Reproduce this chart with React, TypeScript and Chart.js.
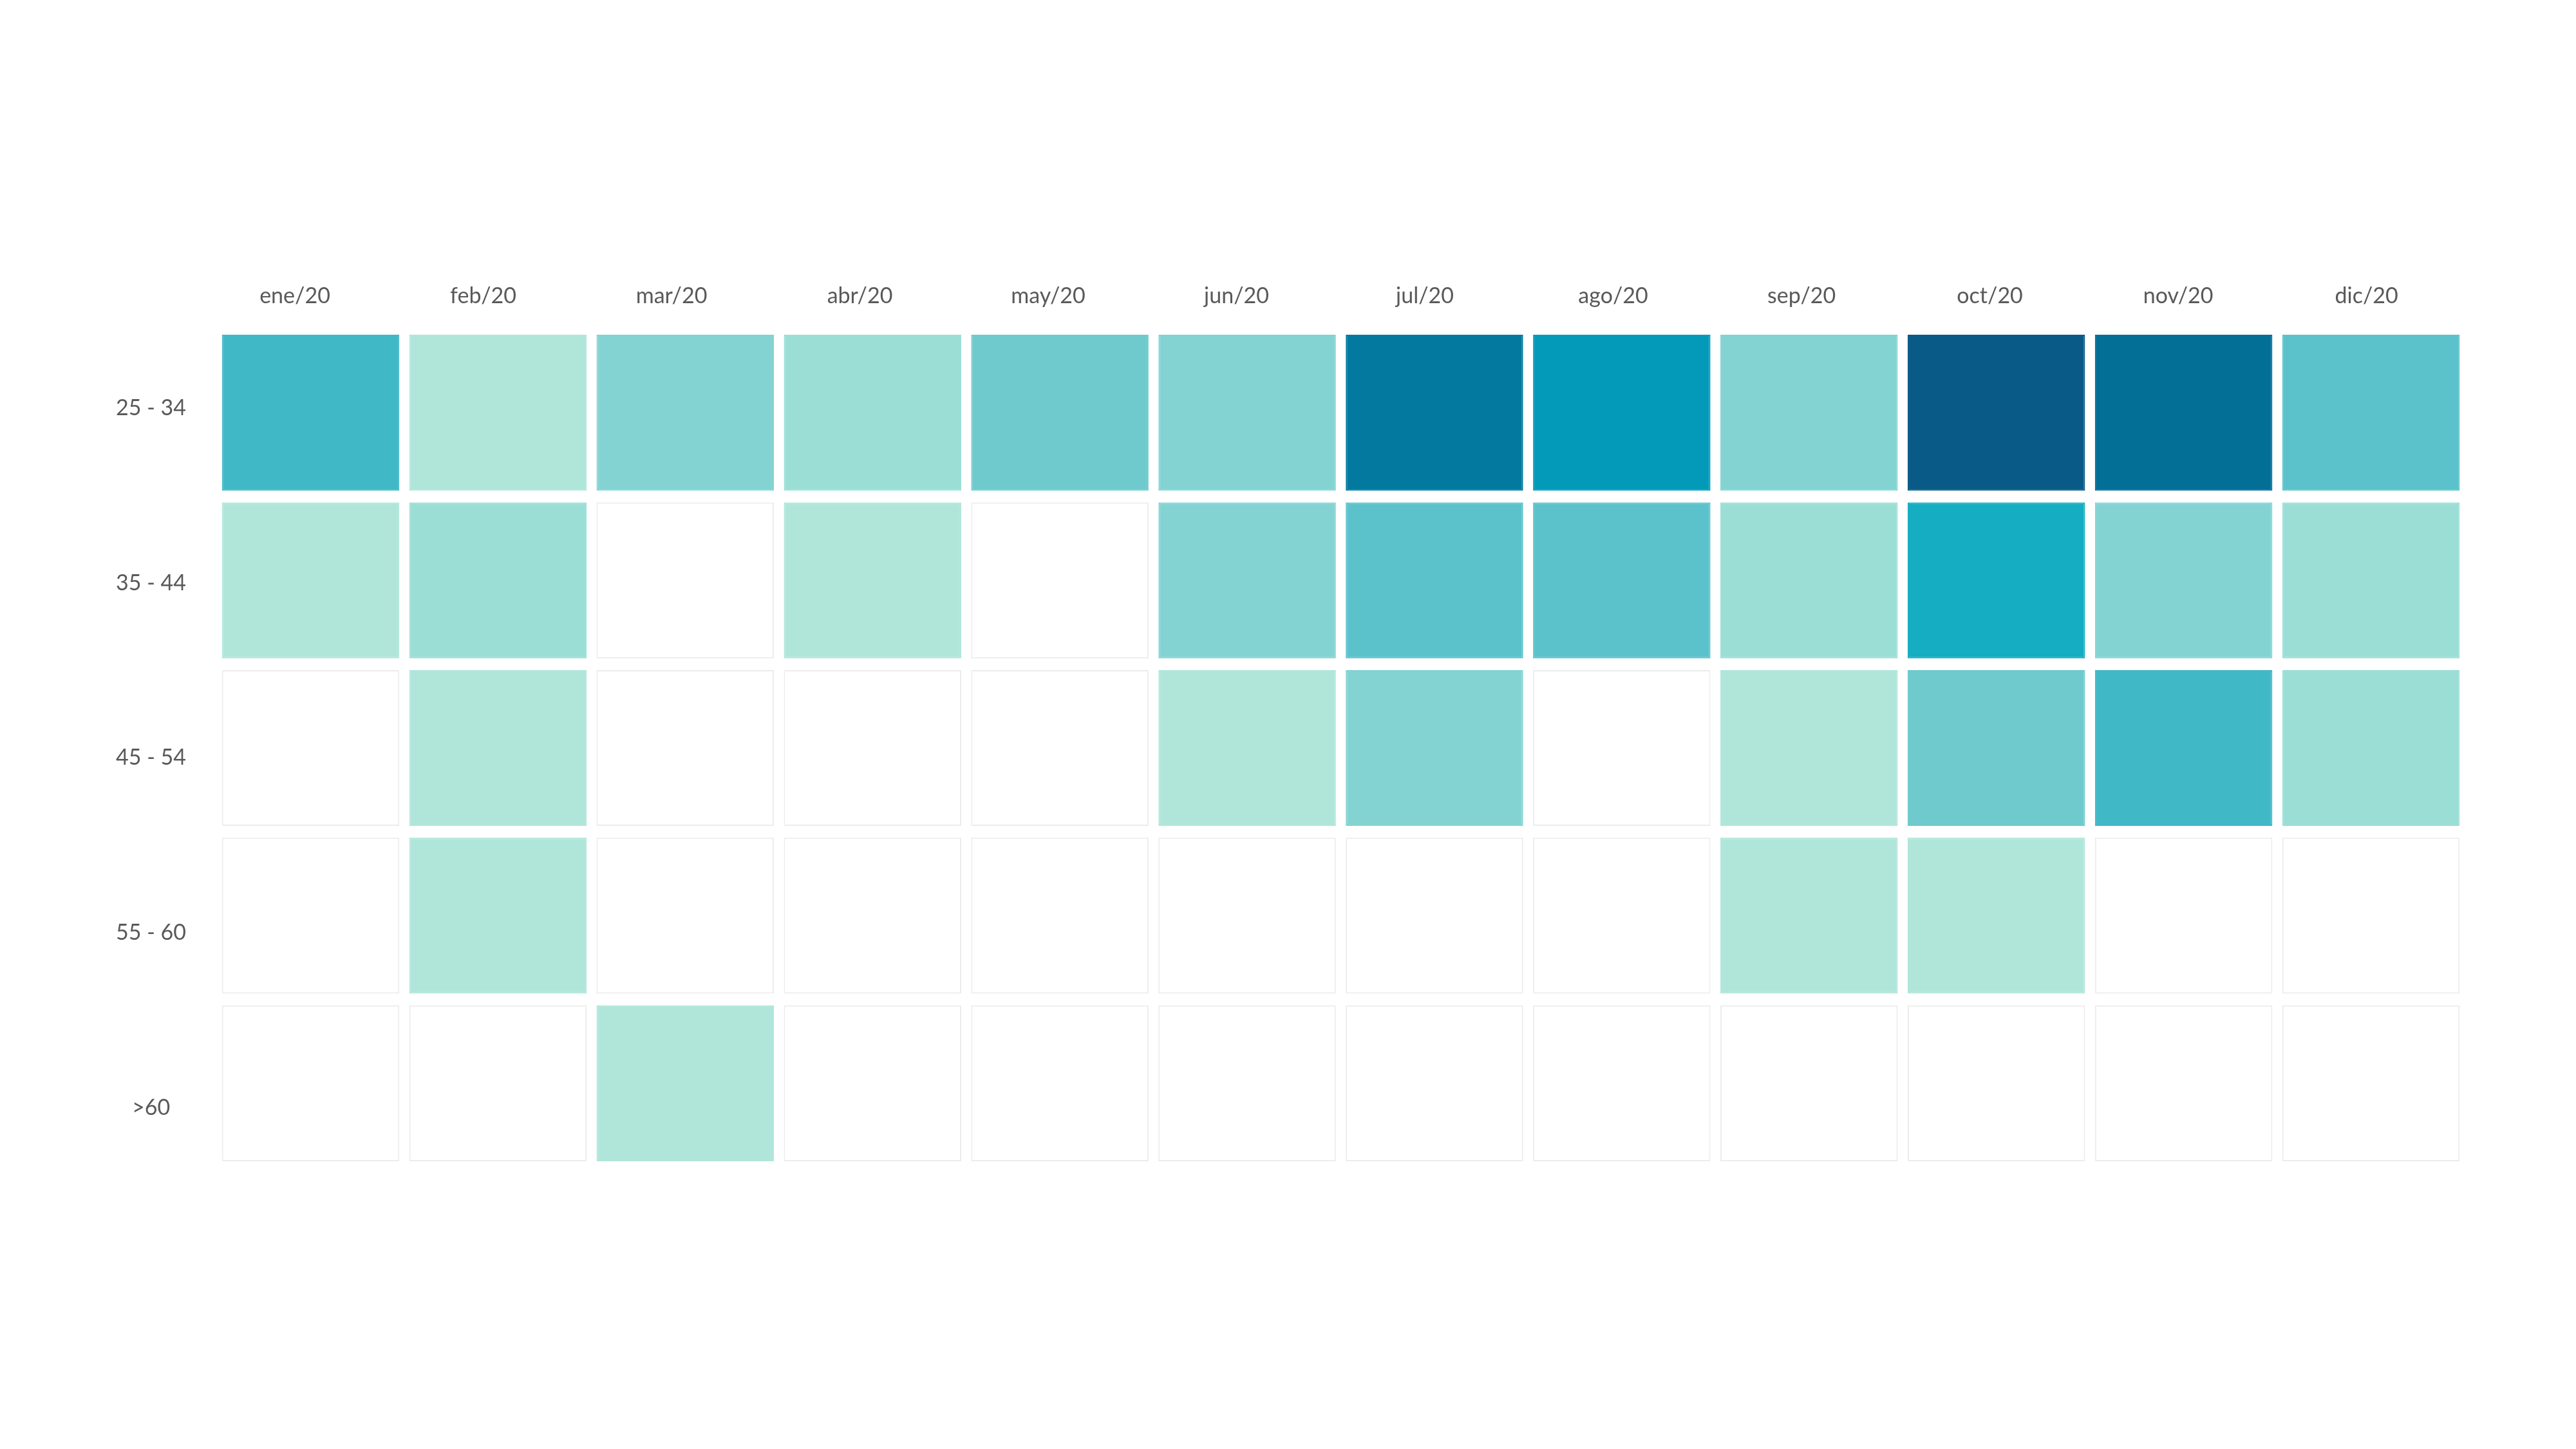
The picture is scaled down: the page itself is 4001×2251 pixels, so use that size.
import React, { useEffect, useRef } from "react";
import { Chart, registerables } from "chart.js";

Chart.register(...registerables);

const months = ["ene/20", "feb/20", "mar/20", "abr/20", "may/20", "jun/20", "jul/20", "ago/20", "sep/20", "oct/20", "nov/20", "dic/20"];
const ageGroups = ["25 - 34", "35 - 44", "45 - 54", "55 - 60", ">60"];

const row2534 = [6, 1, 3, 2, 4, 3, 9, 8, 3, 11, 10, 5];
const row3544 = [1, 2, 0, 1, 0, 3, 5, 5, 2, 7, 3, 2];
const row4554 = [0, 1, 0, 0, 0, 1, 3, 0, 1, 4, 6, 2];
const row5560 = [0, 1, 0, 0, 0, 0, 0, 0, 1, 1, 0, 0];
const row60 = [0, 0, 1, 0, 0, 0, 0, 0, 0, 0, 0, 0];

const rows = [row2534, row3544, row4554, row5560, row60];

const palette = ["#FFFFFF", "#B0E6DA", "#9BDED5", "#84D3D3", "#6ECACD", "#5BC2CB", "#41B8C6", "#14ADC1", "#029AB8", "#03799F", "#036E96", "#0A5A87"];
const emptyBorder = "#ECECEC";

const CELL_H = 0.93;

export default function App() {
  const ref = useRef<HTMLCanvasElement>(null);

  useEffect(() => {
    document.body.style.margin = "0";
    const ctx = ref.current!.getContext("2d")!;
    const fontFamily = "Lato, 'Open Sans', sans-serif";
    const tickFont = { family: fontFamily, size: 34 };
    const hidden = {
      grid: { display: false, drawTicks: false, offset: false },
      border: { display: false },
    };
    const chart = new Chart(ctx, {
      type: "bar",
      data: {
        labels: months,
        datasets: rows.map((vals, r) => ({
          label: ageGroups[r],
          data: vals.map(() => [r - CELL_H / 2, r + CELL_H / 2] as [number, number]),
          backgroundColor: vals.map((v) => palette[v]),
          borderColor: vals.map((v) => (v === 0 ? emptyBorder : palette[v])),
          borderWidth: 2,
          borderSkipped: false,
          categoryPercentage: 1,
          barPercentage: 0.947,
          xAxisID: "x",
          yAxisID: "y",
        })),
      },
      options: {
        responsive: false,
        animation: false,
        events: [],
        layout: { padding: { left: 0, top: 0, right: 173, bottom: 438 } },
        plugins: { legend: { display: false }, tooltip: { enabled: false } },
        scales: {
          x: {
            type: "category",
            display: false,
            stacked: true,
            offset: true,
            grid: { display: false, drawTicks: false },
            border: { display: false },
          },
          y: {
            type: "linear",
            display: false,
            stacked: false,
            min: -0.5,
            max: 4.5,
            reverse: true,
            offset: false,
            ...hidden,
          },
          x2: {
            type: "linear",
            axis: "x",
            position: "top",
            offset: false,
            min: -0.4137,
            max: 11.521,
            ...hidden,
            afterBuildTicks: (s: any) => {
              s.ticks = months.map((_, i) => ({ value: i }));
            },
            ticks: {
              color: "#595959",
              font: tickFont,
              padding: 31,
              maxRotation: 0,
              autoSkip: false,
              callback: (v: any) => months[Math.round(Number(v))] ?? "",
            },
            afterFit: (s: any) => {
              s.height = 511;
            },
          },
          y2: {
            type: "linear",
            axis: "y",
            position: "left",
            offset: false,
            min: -0.453,
            max: 4.339,
            reverse: true,
            ...hidden,
            afterBuildTicks: (s: any) => {
              s.ticks = ageGroups.map((_, i) => ({ value: i }));
            },
            ticks: {
              color: "#595959",
              font: tickFont,
              crossAlign: "center",
              padding: 48,
              autoSkip: false,
              callback: (v: any) => ageGroups[Math.round(Number(v))] ?? "",
            },
            afterFit: (s: any) => {
              s.width = 337;
            },
          },
        },
      },
    });
    return () => chart.destroy();
  }, []);

  return (
    <div style={{ width: 4001, height: 2251, background: "#fff" }}>
      <canvas ref={ref} width={4001} height={2251} />
    </div>
  );
}
